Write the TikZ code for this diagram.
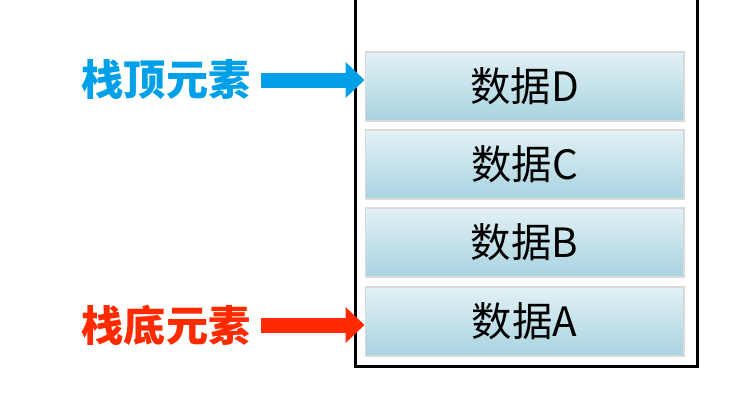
\documentclass[tikz,border=0pt]{standalone}
\usepackage{fontspec}
\setmainfont{Noto Sans CJK SC}
\usetikzlibrary{arrows.meta}
\definecolor{topblue}{HTML}{00A0E9}
\definecolor{botred}{HTML}{FF2A00}
\definecolor{cellhi}{HTML}{E2F1F5}
\definecolor{celllo}{HTML}{A8D3E0}
\tikzset{
  cell/.style={minimum width=6.38cm,minimum height=1.38cm,top color=cellhi,bottom color=celllo,
    draw=white!85!black,line width=0.6pt,inner sep=0pt,font=\fontsize{23}{23}\selectfont},
  tag/.style={font=\bfseries\fontsize{24}{24}\selectfont},
  bigarrow/.style={line width=0.3cm,-{Triangle[length=0.38cm,width=0.7cm]}}
}
\begin{document}
\begin{tikzpicture}[x=0.02cm,y=-0.02cm]
\useasboundingbox (0,0) rectangle (734,406);

% container
\draw[line width=0.06cm] (355,-10) -- (355,366) -- (697,366) -- (697,-10);

% cells
\node[cell] (d) at (524.5,86.5) {数据D};
\node[cell] (c) at (524.5,164.5) {数据C};
\node[cell] (b) at (524.5,242.5) {数据B};
\node[cell] (a) at (524.5,321.5) {数据A};

% labels
\node[tag,text=topblue] (top) at (166,80) {栈顶元素};
\node[tag,text=botred] (bot) at (166,325) {栈底元素};

\draw[bigarrow,topblue] (top.east) ++(4,0) coordinate (ts) -- (ts -| d.west);
\draw[bigarrow,botred] (bot.east) ++(4,0) coordinate (bs) -- (bs -| a.west);

\end{tikzpicture}
\end{document}
